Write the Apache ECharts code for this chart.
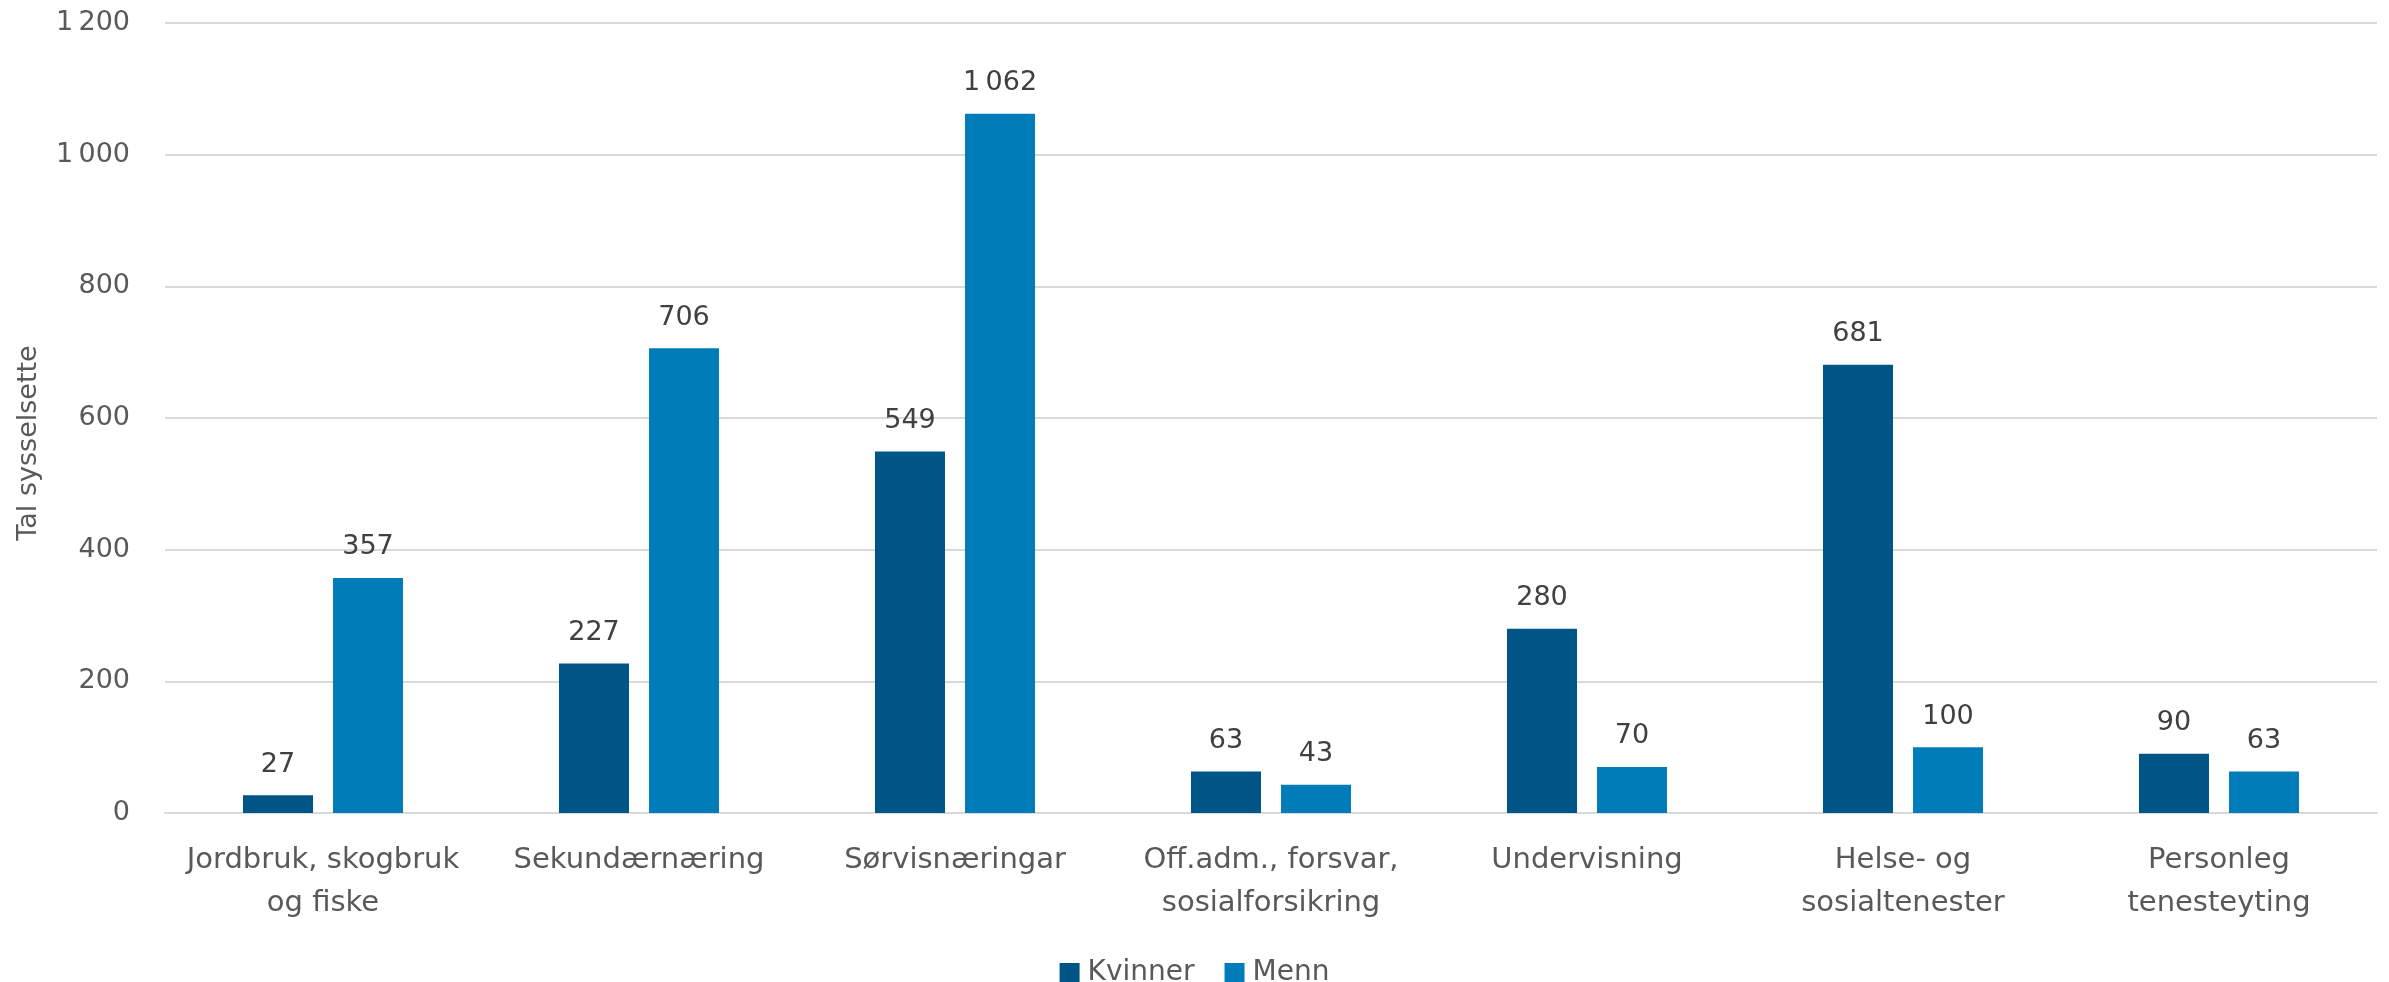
<!DOCTYPE html>
<html>
<head>
<meta charset="utf-8">
<script src="https://cdn.jsdelivr.net/npm/echarts@6/dist/echarts.min.js"></script>
<style>
html,body{margin:0;padding:0;background:#fff;}
#chart{width:2389px;height:982px;}
</style>
</head>
<body>
<div id="chart"></div>
<script>
const categories = [
  "Jordbruk, skogbruk\nog fiske",
  "Sekundærnæring",
  "Sørvisnæringar",
  "Off.adm., forsvar,\nsosialforsikring",
  "Undervisning",
  "Helse- og\nsosialtenester",
  "Personleg\ntenesteyting"
];
const kvinner = [27, 227, 549, 63, 280, 681, 90];
const menn = [357, 706, 1062, 43, 70, 100, 63];
const seriesNames = ["Kvinner", "Menn"];
const axisTitle = "Tal sysselsette";

const FONT = "'DejaVu Sans', sans-serif";
const FS = 27;
function fmt(v) {
  return String(v).replace(/\B(?=(\d{3})+(?!\d))/g, '\u2009');
}

const chart = echarts.init(document.getElementById('chart'), null, {renderer: 'canvas'});
function labelCfg() {
  return {
    show: true,
    position: 'top',
    distance: 17,
    color: '#404040',
    fontFamily: FONT,
    fontSize: FS,
    formatter: p => fmt(p.value)
  };
}
chart.setOption({
  animation: false,
  textStyle: {fontFamily: FONT},
  grid: {left: 165, right: 12, top: 23, bottom: 169, containLabel: false},
  legend: {
    data: seriesNames,
    top: 959,
    left: 'center',
    padding: 0,
    itemWidth: 20,
    itemHeight: 20,
    itemGap: 30,
    icon: 'rect',
    textStyle: {color: '#595959', fontSize: 28, fontFamily: FONT, padding: [0, 0, 0, 3]}
  },
  xAxis: {
    type: 'category',
    data: categories,
    axisLine: {show: true, lineStyle: {color: '#d9d9d9', width: 2}},
    axisTick: {show: false},
    axisLabel: {
      color: '#595959',
      fontSize: 29,
      fontFamily: FONT,
      lineHeight: 43,
      margin: 26,
      interval: 0
    }
  },
  yAxis: {
    type: 'value',
    min: 0,
    max: 1200,
    interval: 200,
    name: axisTitle,
    nameLocation: 'middle',
    nameGap: 123,
    nameRotate: 90,
    nameTextStyle: {color: '#595959', fontSize: 27, fontFamily: FONT, padding: [0, 50, 0, 0]},
    axisLine: {show: false},
    axisTick: {show: false},
    splitLine: {lineStyle: {color: '#d9d9d9', width: 2}},
    axisLabel: {
      color: '#595959',
      fontSize: FS,
      fontFamily: FONT,
      margin: 35,
      formatter: v => fmt(v)
    }
  },
  series: [
    {
      name: seriesNames[0],
      type: 'bar',
      data: kvinner,
      barWidth: 70,
      barGap: '28.6%',
      itemStyle: {color: '#005587'},
      label: labelCfg()
    },
    {
      name: seriesNames[1],
      type: 'bar',
      data: menn,
      barWidth: 70,
      itemStyle: {color: '#007DB8'},
      label: labelCfg()
    }
  ]
});
</script>
</body>
</html>
